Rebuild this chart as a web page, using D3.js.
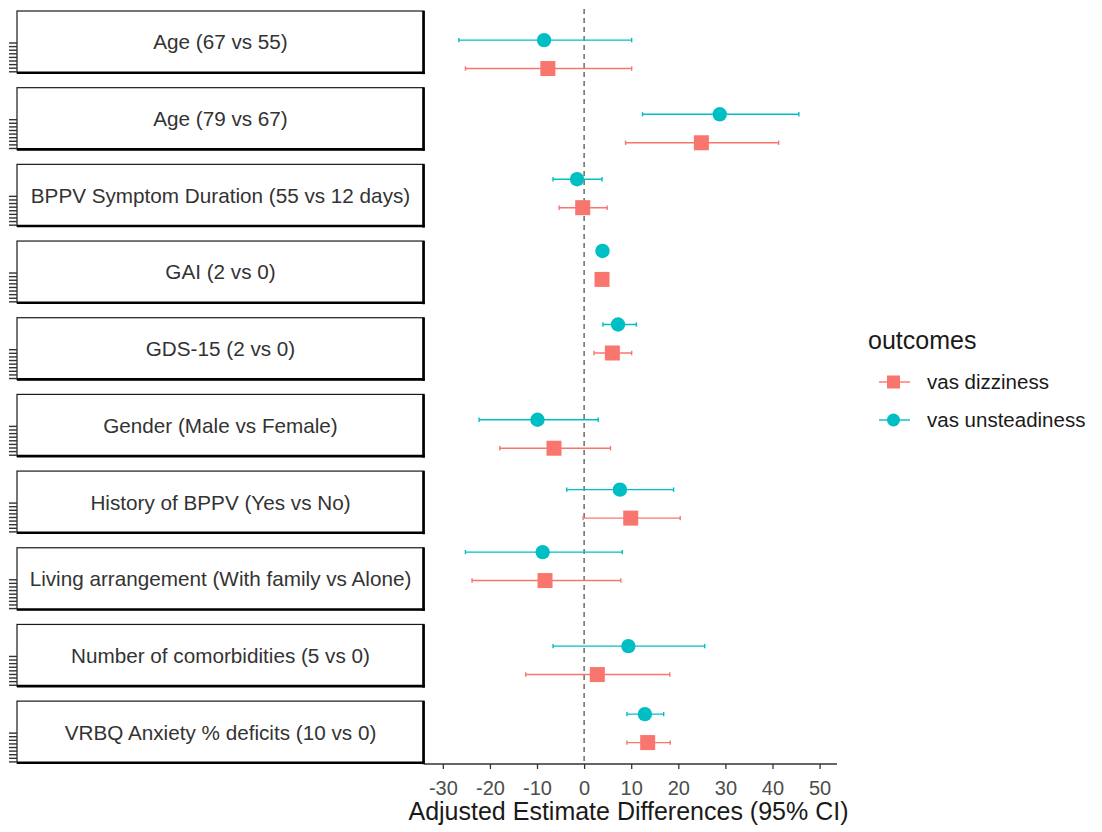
<!DOCTYPE html>
<html>
<head>
<meta charset="utf-8">
<script src="https://cdn.jsdelivr.net/npm/d3@7"></script>
<style>
  html, body { margin: 0; padding: 0; background: #ffffff; }
  svg { display: block; font-family: "Liberation Sans", Arial, sans-serif; }
</style>
</head>
<body>
<svg id="chart" width="1102" height="832"></svg>
<script>
// Model terms (one facet row each)
const terms = [
  "Age (67 vs 55)",
  "Age (79 vs 67)",
  "BPPV Symptom Duration (55 vs 12 days)",
  "GAI (2 vs 0)",
  "GDS-15 (2 vs 0)",
  "Gender (Male vs Female)",
  "History of BPPV (Yes vs No)",
  "Living arrangement (With family vs Alone)",
  "Number of comorbidities (5 vs 0)",
  "VRBQ Anxiety % deficits (10 vs 0)"
];

// Outcomes
const outcomes = ["vas dizziness", "vas unsteadiness"];

// Adjusted estimate differences with 95% CI — VAS dizziness
const dizzEst = [-7.7, 24.9, -0.3, 3.8, 6.0, -6.4, 9.9, -8.3, 2.8, 13.5];
const dizzLo  = [-25.2, 8.8, -5.3, 2.9, 2.1, -17.9, -0.2, -23.8, -12.4, 9.1];
const dizzHi  = [10.1, 41.3, 4.9, 4.9, 10.1, 5.6, 20.4, 7.8, 18.2, 18.3];

// Adjusted estimate differences with 95% CI — VAS unsteadiness
const unstEst = [-8.5, 28.8, -1.5, 3.9, 7.2, -9.9, 7.6, -8.8, 9.4, 12.9];
const unstLo  = [-26.6, 12.4, -6.6, 3.0, 4.0, -22.3, -3.7, -25.2, -6.6, 9.1];
const unstHi  = [10.1, 45.6, 3.8, 4.8, 11.1, 3.0, 19.0, 8.1, 25.6, 16.9];

// Vertical level of each term's pair within its facet (0 = top, 1 = bottom)
const termLevel = [0.70, 0.66, 0.47, 0.39, 0.34, 0.64, 0.53, 0.30, 0.58, 0.44];

// X axis ticks
const xTicks = [-30, -20, -10, 0, 10, 20, 30, 40, 50];

const colors = { "vas dizziness": "#F8766D", "vas unsteadiness": "#00BFC4" };

// Long-format rows built from the arrays above
const rows = [];
terms.forEach((t, i) => {
  rows.push({ term: t, i, outcome: outcomes[0], est: dizzEst[i], lo: dizzLo[i], hi: dizzHi[i] });
  rows.push({ term: t, i, outcome: outcomes[1], est: unstEst[i], lo: unstLo[i], hi: unstHi[i] });
});

const svg = d3.select("#chart");

const panelLeft = 424, panelRight = 837;
const stripLeft = 17;
const axisY = 764;

const x = d3.scaleLinear().domain([-34.0, 53.7]).range([panelLeft, panelRight]);
const facet = d3.scaleBand().domain(terms).range([11, 763]).paddingInner(0.193).paddingOuter(0);
// dodge offsets (fraction of facet height) for the two outcomes
const dodge = d3.scaleBand().domain(["vas unsteadiness", "vas dizziness"]).range([-0.46, 0.46]);

function rowY(d) {
  const top = facet(d.term), h = facet.bandwidth();
  const inner = d3.scaleLinear().domain([0, 1]).range([top, top + h]);
  return inner(termLevel[d.i] + dodge(d.outcome) + dodge.bandwidth() / 2);
}

// Strips on the left
const strips = svg.append("g").attr("class", "strips");
terms.forEach(t => {
  const top = facet(t), h = facet.bandwidth();
  const g = strips.append("g");
  g.append("rect")
    .attr("x", stripLeft).attr("y", top)
    .attr("width", panelLeft - stripLeft).attr("height", h)
    .attr("fill", "#ffffff").attr("stroke", "#1a1a1a").attr("stroke-width", 1.2);
  // heavier right and bottom edges
  g.append("line").attr("x1", panelLeft - 0.5).attr("x2", panelLeft - 0.5)
    .attr("y1", top).attr("y2", top + h + 1.3)
    .attr("stroke", "#000").attr("stroke-width", 2.6);
  g.append("line").attr("x1", stripLeft).attr("x2", panelLeft + 0.8)
    .attr("y1", top + h - 0.2).attr("y2", top + h - 0.2)
    .attr("stroke", "#000").attr("stroke-width", 2.6);
  g.append("text")
    .attr("x", (stripLeft + panelLeft) / 2).attr("y", top + h / 2)
    .attr("text-anchor", "middle").attr("dominant-baseline", "central")
    .attr("font-size", 20.7).attr("fill", "#333333")
    .text(t);
  // compressed y-axis ticks left of each strip
  const combY = d3.range(9).map(k => top + 32 + k * 3.6);
  g.selectAll("line.comb").data(combY).join("line")
    .attr("class", "comb")
    .attr("x1", 9).attr("x2", stripLeft)
    .attr("y1", d => d).attr("y2", d => d)
    .attr("stroke", "#333").attr("stroke-width", 1.4);
});

// Reference line at zero
svg.append("line")
  .attr("x1", x(0)).attr("x2", x(0))
  .attr("y1", 9).attr("y2", axisY)
  .attr("stroke", "#555").attr("stroke-width", 1.3)
  .attr("stroke-dasharray", "5,4");

// Error bars
const bars = svg.append("g").attr("class", "errorbars");
bars.selectAll("line.ci").data(rows).join("line")
  .attr("class", "ci")
  .attr("x1", d => x(d.lo)).attr("x2", d => x(d.hi))
  .attr("y1", rowY).attr("y2", rowY)
  .attr("stroke", d => colors[d.outcome]).attr("stroke-width", 1.4);
["lo", "hi"].forEach(k => {
  bars.selectAll("line.cap-" + k).data(rows).join("line")
    .attr("class", "cap-" + k)
    .attr("x1", d => x(d[k])).attr("x2", d => x(d[k]))
    .attr("y1", d => rowY(d) - 2.2).attr("y2", d => rowY(d) + 2.2)
    .attr("stroke", d => colors[d.outcome]).attr("stroke-width", 1.4);
});

// Point estimates
const pts = svg.append("g").attr("class", "points");
pts.selectAll("rect").data(rows.filter(d => d.outcome === "vas dizziness")).join("rect")
  .attr("x", d => x(d.est) - 7.5).attr("y", d => rowY(d) - 7.5)
  .attr("width", 15).attr("height", 15)
  .attr("fill", colors["vas dizziness"]);
pts.selectAll("circle").data(rows.filter(d => d.outcome === "vas unsteadiness")).join("circle")
  .attr("cx", d => x(d.est)).attr("cy", rowY)
  .attr("r", 7.2)
  .attr("fill", colors["vas unsteadiness"]);

// X axis
const xAxis = svg.append("g").attr("transform", `translate(0,${axisY})`)
  .call(d3.axisBottom(x).tickValues(xTicks).tickFormat(d => String(d))
    .tickSize(5).tickPadding(5).tickSizeOuter(0));
xAxis.select(".domain").attr("stroke", "#333").attr("stroke-width", 1.3)
  .attr("d", `M${panelLeft},0H${panelRight}`);
xAxis.selectAll(".tick line").attr("stroke", "#333").attr("stroke-width", 1.3);
xAxis.selectAll(".tick text").attr("font-size", 20).attr("fill", "#4d4d4d")
  .attr("font-family", "'Liberation Sans', Arial, sans-serif")
  .attr("dy", null).attr("y", 31);

svg.append("text")
  .attr("x", (panelLeft + panelRight) / 2 - 2).attr("y", 820)
  .attr("text-anchor", "middle").attr("font-size", 25).attr("fill", "#1a1a1a")
  .text("Adjusted Estimate Differences (95% CI)");

// Legend
const legend = svg.append("g").attr("transform", "translate(868,0)");
legend.append("text").attr("x", 0).attr("y", 349)
  .attr("font-size", 25).attr("fill", "#1a1a1a").text("outcomes");
const keyY = d3.scalePoint().domain(outcomes).range([382, 420]);
outcomes.forEach(o => {
  const ky = keyY(o);
  const k = legend.append("g");
  k.append("line").attr("x1", 11).attr("x2", 42).attr("y1", ky).attr("y2", ky)
    .attr("stroke", colors[o]).attr("stroke-width", 1.4);
  if (o === "vas dizziness") {
    k.append("rect").attr("x", 25.5 - 6.5).attr("y", ky - 6.5).attr("width", 13).attr("height", 13)
      .attr("fill", colors[o]);
  } else {
    k.append("circle").attr("cx", 25.5).attr("cy", ky).attr("r", 6.5).attr("fill", colors[o]);
  }
  k.append("text").attr("x", 59).attr("y", ky + 7)
    .attr("font-size", 20.5).attr("fill", "#1a1a1a").text(o);
});
</script>
</body>
</html>
